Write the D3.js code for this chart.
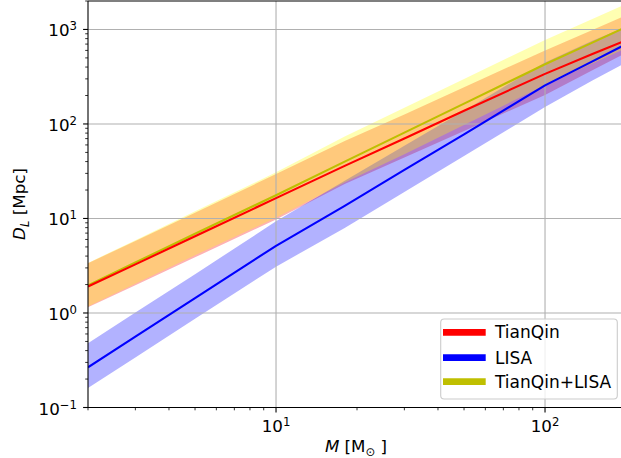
<!DOCTYPE html>
<html><head><meta charset="utf-8">
<script src="https://cdn.jsdelivr.net/npm/d3@7"></script>
<style>body{margin:0;background:#fff;} text{font-family:"DejaVu Sans",sans-serif;}</style>
</head><body>
<svg id="c" width="621" height="458"></svg>
<script>
// Data
const masses = [2, 3, 5, 10, 18, 30, 50, 100, 150, 200];
const tianqin      = [1.91, 3.27, 6.49, 16.4, 36.0, 70.3, 138, 339, 550, 767];
const tianqinUpper = [3.36, 5.78, 11.5, 29.5, 66.1, 126, 245, 600, 989, 1413];
const tianqinLower = [1.15, 1.97, 3.88, 9.77, 23.2, 44.3, 84.3, 203, 370, 565];
const lisa         = [0.266, 0.561, 1.44, 5.14, 13.6, 32.7, 77.6, 256, 460, 698];
const lisaUpper    = [0.479, 1.01, 2.57, 9.33, 25.1, 58.9, 138, 447, 759, 1072];
const lisaLower    = [0.161, 0.339, 0.871, 3.09, 7.94, 19.1, 45.7, 151, 288, 447];
const combined      = [1.96, 3.42, 6.90, 17.6, 39.9, 80.9, 164, 429, 726, 1057];
const combinedUpper = [3.39, 5.90, 11.9, 30.8, 73.5, 148, 299, 774, 1288, 1862];
const combinedLower = [1.17, 2.04, 4.07, 10.2, 24.0, 47.9, 97.7, 257, 437, 631];
const seriesNames = ["TianQin", "LISA", "TianQin+LISA"];
const xMajorTicks = [10, 100];
const xTickExps = ["1", "2"];
const yMajorTicks = [0.1, 1, 10, 100, 1000];
const yTickExps = ["\u22121", "0", "1", "2", "3"];

const svg = d3.select("#c");
const L = 88, R = 626, T = 1, B = 407.5;
const x = d3.scaleLog().domain([2, 200]).range([L, R]);
const y = d3.scaleLog().domain([0.1, 2000]).range([B, T]);

svg.append("defs").append("clipPath").attr("id", "clip")
  .append("rect").attr("x", L).attr("y", T).attr("width", R - L).attr("height", B - T);

const plot = svg.append("g").attr("clip-path", "url(#clip)");

function band(up, lo) {
  return d3.area().x((d, i) => x(masses[i])).y0((d, i) => y(lo[i])).y1((d, i) => y(up[i]))(masses);
}
function line(v) {
  return d3.line().x((d, i) => x(masses[i])).y((d, i) => y(v[i]))(masses);
}
plot.append("path").attr("d", band(tianqinUpper, tianqinLower)).attr("fill", "#ff0000").attr("fill-opacity", 0.3);
plot.append("path").attr("d", band(lisaUpper, lisaLower)).attr("fill", "#0000ff").attr("fill-opacity", 0.3);
plot.append("path").attr("d", band(combinedUpper, combinedLower)).attr("fill", "#ffff00").attr("fill-opacity", 0.3);

// grid
const gridG = plot.append("g");
xMajorTicks.forEach(t => gridG.append("line").attr("x1", x(t)).attr("x2", x(t)).attr("y1", T).attr("y2", B)
  .attr("stroke", "#b0b0b0").attr("stroke-width", 1.1));
yMajorTicks.forEach(t => gridG.append("line").attr("y1", y(t)).attr("y2", y(t)).attr("x1", L).attr("x2", R)
  .attr("stroke", "#b0b0b0").attr("stroke-width", 1.1));

plot.append("path").attr("d", line(combined)).attr("fill", "none").attr("stroke", "#bfbf00").attr("stroke-width", 2.1).attr("stroke-linejoin", "round");
plot.append("path").attr("d", line(tianqin)).attr("fill", "none").attr("stroke", "#ff0000").attr("stroke-width", 2.1).attr("stroke-linejoin", "round");
plot.append("path").attr("d", line(lisa)).attr("fill", "none").attr("stroke", "#0000ff").attr("stroke-width", 2.1).attr("stroke-linejoin", "round");

// axes (ticks via d3 axis, labels drawn custom for superscripts)
const xAxis = d3.axisBottom(x).tickValues(x.ticks()).tickSize(0).tickFormat("");
const xa = svg.append("g").attr("transform", `translate(0,${B})`).call(xAxis);
xa.select(".domain").remove();
x.ticks().forEach(t => {
  const major = xMajorTicks.includes(t);
  xa.append("line").attr("x1", x(t)).attr("x2", x(t)).attr("y1", 0).attr("y2", major ? 4.9 : 2.8)
    .attr("stroke", "#000").attr("stroke-width", major ? 1.1 : 0.8);
});
const ya = svg.append("g").attr("transform", `translate(${L},0)`).call(d3.axisLeft(y).tickValues(y.ticks()).tickSize(0).tickFormat(""));
ya.select(".domain").remove();
y.ticks().forEach(t => {
  const major = yMajorTicks.includes(t);
  ya.append("line").attr("x1", 0).attr("x2", major ? -4.9 : -2.8).attr("y1", y(t)).attr("y2", y(t))
    .attr("stroke", "#000").attr("stroke-width", major ? 1.1 : 0.8);
});

// spines
svg.append("line").attr("x1", L).attr("x2", L).attr("y1", T).attr("y2", B).attr("stroke", "#000").attr("stroke-width", 1.1);
svg.append("line").attr("x1", L).attr("x2", R).attr("y1", B).attr("y2", B).attr("stroke", "#000").attr("stroke-width", 1.1);
svg.append("line").attr("x1", L).attr("x2", R).attr("y1", T).attr("y2", T).attr("stroke", "#000").attr("stroke-width", 1.1);
svg.append("line").attr("x1", R).attr("x2", R).attr("y1", T).attr("y2", B).attr("stroke", "#000").attr("stroke-width", 1.1);

// tick labels
const fs = 16.7;
xMajorTicks.forEach((t, i) => {
  const tx = svg.append("text").attr("x", x(t)).attr("y", B + 24).attr("text-anchor", "middle").attr("font-size", fs);
  tx.append("tspan").text("10");
  tx.append("tspan").attr("dy", -6).attr("font-size", fs * 0.7).text(xTickExps[i]);
});
yMajorTicks.forEach((t, i) => {
  const tx = svg.append("text").attr("x", 77).attr("y", y(t) + 7).attr("text-anchor", "end").attr("font-size", fs);
  tx.append("tspan").text("10");
  tx.append("tspan").attr("dy", -6).attr("font-size", fs * 0.7).text(yTickExps[i]);
});

// axis labels
const xl = svg.append("text").attr("x", 356).attr("y", 452).attr("text-anchor", "middle").attr("font-size", fs);
xl.append("tspan").attr("font-style", "italic").text("M");
xl.append("tspan").text(" [M");
xl.append("tspan").attr("dy", 4).attr("font-size", fs * 0.7).text("\u2299");
xl.append("tspan").attr("dy", -4).text(" ]");

const yl = svg.append("text").attr("transform", "translate(25,204) rotate(-90)").attr("text-anchor", "middle").attr("font-size", fs);
yl.append("tspan").attr("font-style", "italic").text("D");
yl.append("tspan").attr("dy", 4).attr("font-size", fs * 0.7).attr("font-style", "italic").text("L");
yl.append("tspan").attr("dy", -4).text(" [Mpc]");

// legend
const lg = svg.append("g");
lg.append("rect").attr("x", 440.7).attr("y", 319).attr("width", 176.6).attr("height", 80).attr("rx", 3.5)
  .attr("fill", "#fff").attr("fill-opacity", 0.8).attr("stroke", "#cccccc").attr("stroke-width", 1.1);
const legColors = ["#ff0000", "#0000ff", "#bfbf00"];
const rowY = [332.3, 357.7, 381.7];
seriesNames.forEach((n, i) => {
  lg.append("line").attr("x1", 443).attr("x2", 485.7).attr("y1", rowY[i]).attr("y2", rowY[i])
    .attr("stroke", legColors[i]).attr("stroke-width", 6.8);
  lg.append("text").attr("x", 495).attr("y", rowY[i] + 6).attr("font-size", 17).text(n);
});
</script>
</body></html>
